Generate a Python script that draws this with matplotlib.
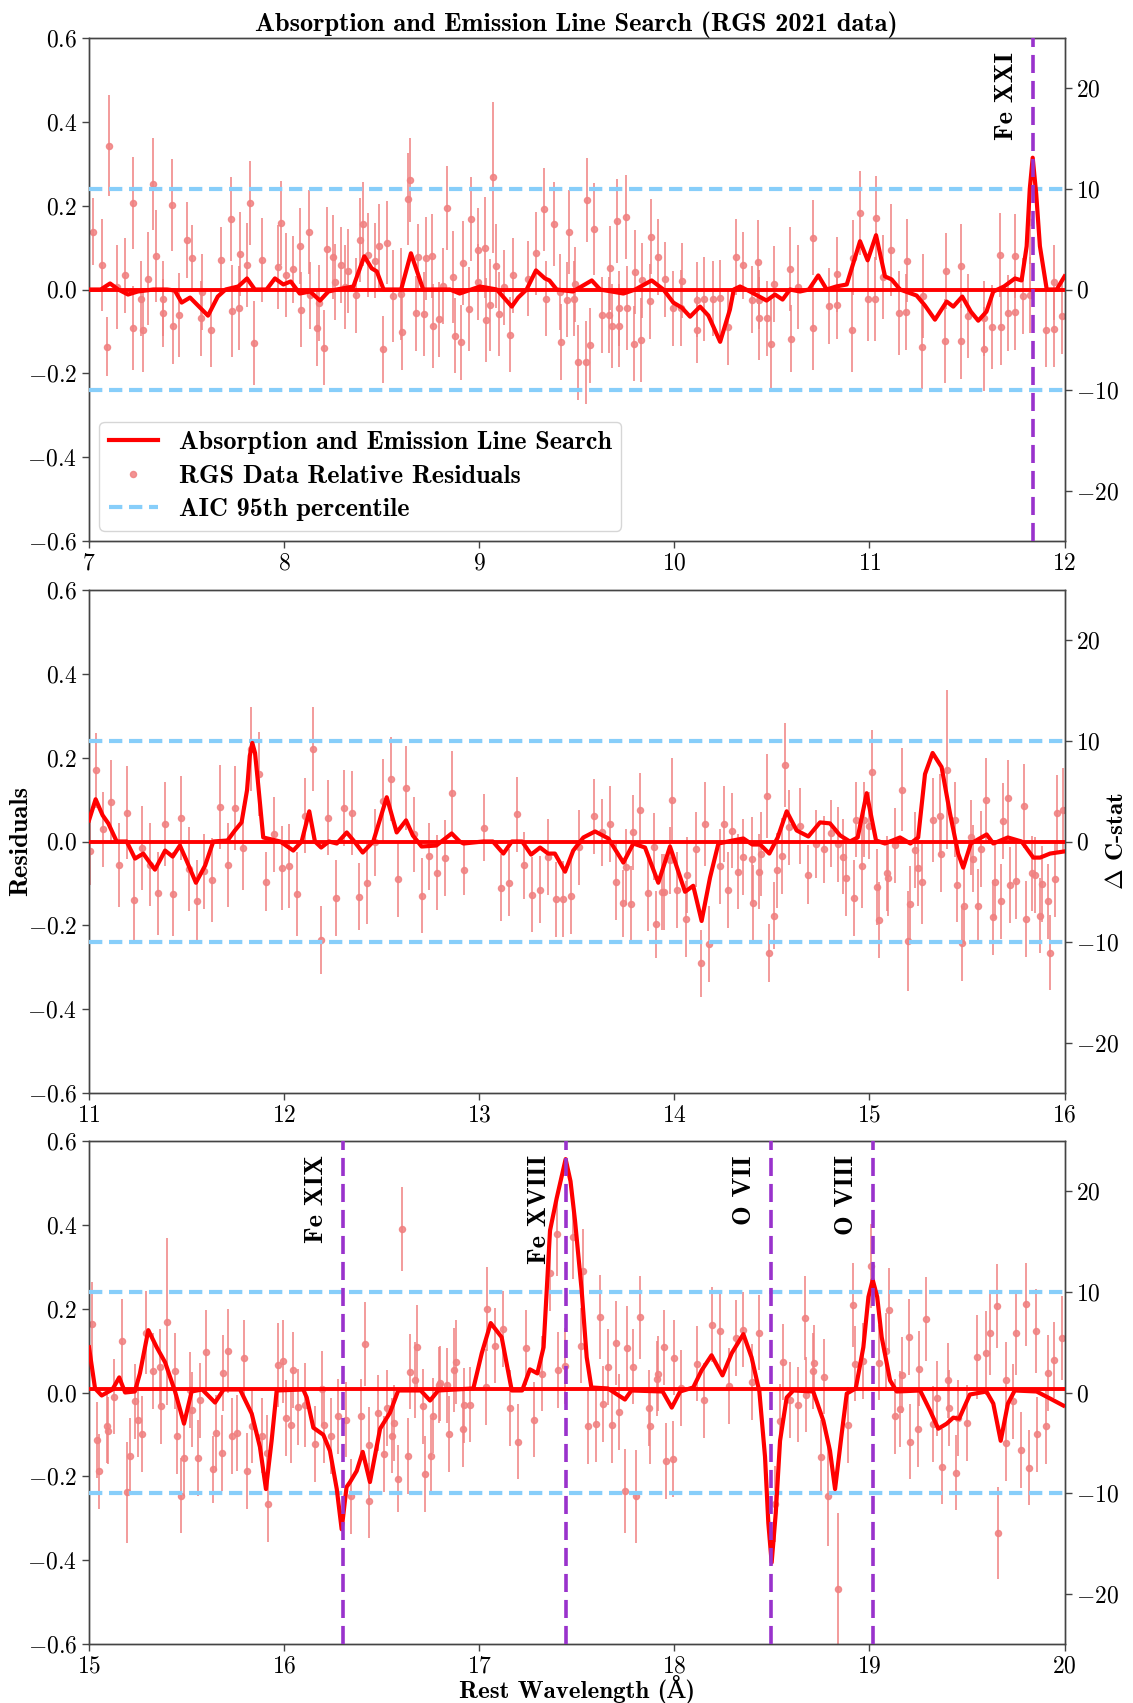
import numpy as np
import matplotlib
matplotlib.use('Agg')
import matplotlib.pyplot as plt
import matplotlib.transforms as mtransforms
from matplotlib.lines import Line2D
from matplotlib.ticker import FuncFormatter, MultipleLocator

plt.rcParams['mathtext.fontset'] = 'cm'
plt.rcParams['font.family'] = ['cmb10', 'DejaVu Serif']

# ---- panel 1 : 7-12 A ----
wl1 = [7.019, 7.065, 7.094, 7.104, 7.145, 7.185, 7.224, 7.227, 7.265, 7.275, 7.304, 7.326, 7.343, 7.378,
       7.381, 7.424, 7.429, 7.463, 7.500, 7.526, 7.572, 7.578, 7.625, 7.675, 7.726, 7.731, 7.770, 7.774,
       7.808, 7.825, 7.847, 7.885, 7.967, 7.984, 8.008, 8.047, 8.081, 8.087, 8.127, 8.133, 8.167, 8.179,
       8.206, 8.218, 8.249, 8.261, 8.290, 8.312, 8.329, 8.367, 8.389, 8.406, 8.432, 8.466, 8.486, 8.508,
       8.526, 8.556, 8.597, 8.604, 8.637, 8.645, 8.676, 8.688, 8.717, 8.725, 8.756, 8.765, 8.796, 8.816,
       8.833, 8.864, 8.874, 8.905, 8.915, 8.950, 8.956, 8.992, 8.995, 9.030, 9.033, 9.055, 9.072, 9.086,
       9.103, 9.127, 9.158, 9.175, 9.252, 9.289, 9.332, 9.342, 9.383, 9.414, 9.419, 9.452, 9.462, 9.486,
       9.491, 9.505, 9.545, 9.551, 9.568, 9.590, 9.628, 9.665, 9.671, 9.679, 9.708, 9.716, 9.718, 9.751,
       9.755, 9.796, 9.798, 9.827, 9.832, 9.875, 9.879, 9.918, 9.952, 9.995, 10.032, 10.038, 10.114,
       10.118, 10.152, 10.197, 10.234, 10.275, 10.316, 10.354, 10.397, 10.431, 10.434, 10.436, 10.473,
       10.494, 10.513, 10.593, 10.598, 10.636, 10.712, 10.713, 10.794, 10.832, 10.836, 10.909, 10.914,
       10.951, 10.991, 11.029, 11.032, 11.071, 11.110, 11.151, 11.190, 11.191, 11.269, 11.273, 11.388,
       11.391, 11.469, 11.471, 11.507, 11.588, 11.589, 11.630, 11.669, 11.672, 11.709, 11.746, 11.748,
       11.786, 11.823, 11.825, 11.905, 11.944, 11.946, 11.985]
res1 = [0.138, 0.058, -0.136, 0.343, 0.006, 0.034, -0.092, 0.206, -0.022, -0.097, 0.026, 0.251, 0.080, -0.056,
        -0.022, 0.202, -0.088, -0.061, 0.118, 0.074, -0.069, -0.006, -0.096, 0.070, 0.168, -0.051, -0.044, 0.084,
        0.058, 0.207, -0.128, 0.070, 0.053, 0.159, 0.034, 0.048, 0.104, -0.048, 0.138, -0.014, -0.092, -0.032,
        -0.139, 0.096, 0.078, 0.018, 0.058, 0.006, 0.045, -0.014, 0.118, 0.156, 0.082, 0.069, 0.104, -0.143,
        0.112, -0.016, -0.011, -0.101, 0.216, 0.261, -0.057, 0.077, -0.059, 0.074, 0.080, -0.088, -0.071, 0.008,
        0.194, 0.030, -0.110, -0.126, 0.064, -0.047, 0.168, 0.094, 0.018, 0.100, -0.073, -0.037, 0.268, 0.056,
        -0.059, 0.005, -0.108, 0.034, 0.026, 0.086, 0.191, -0.022, 0.156, -0.006, -0.125, -0.024, 0.138, -0.022,
        0.012, -0.174, -0.174, 0.214, -0.133, 0.144, -0.061, -0.061, 0.052, -0.088, 0.163, -0.086, -0.045, 0.172,
        -0.044, -0.129, 0.041, -0.120, 0.022, -0.028, 0.126, 0.078, 0.024, -0.045, -0.044, 0.021, -0.096,
        -0.024, -0.022, -0.022, -0.020, -0.090, 0.078, 0.058, -0.024, 0.065, -0.024, -0.069, -0.069,
        -0.130, 0.013, 0.048, -0.117, 0.006, -0.092, 0.124, -0.039, 0.036, -0.037, -0.096, 0.076,
        0.182, -0.023, -0.022, 0.170, 0.029, 0.094, -0.056, -0.054, 0.069, -0.137, -0.015, -0.122,
        0.044, 0.056, -0.124, -0.064, -0.141, -0.069, -0.089, 0.082, -0.089, -0.056, 0.080, -0.054,
        -0.015, 0.162, -0.013, -0.096, -0.094, 0.017, -0.064]
err1 = [0.08, 0.11, 0.07, 0.12, 0.10, 0.09, 0.10, 0.11, 0.09, 0.10, 0.11, 0.11, 0.11, 0.08,
        0.09, 0.11, 0.09, 0.10, 0.09, 0.08, 0.09, 0.09, 0.09, 0.08, 0.10, 0.11, 0.10, 0.10,
        0.10, 0.10, 0.10, 0.10, 0.10, 0.10, 0.10, 0.08, 0.09, 0.09, 0.10, 0.08, 0.09, 0.09,
        0.09, 0.10, 0.10, 0.09, 0.09, 0.10, 0.10, 0.09, 0.10, 0.10, 0.10, 0.09, 0.10, 0.08,
        0.10, 0.11, 0.11, 0.09, 0.11, 0.10, 0.09, 0.08, 0.10, 0.10, 0.10, 0.10, 0.09, 0.09,
        0.10, 0.11, 0.09, 0.09, 0.10, 0.10, 0.10, 0.10, 0.09, 0.12, 0.10, 0.11, 0.18, 0.10,
        0.10, 0.09, 0.09, 0.09, 0.09, 0.10, 0.10, 0.09, 0.10, 0.09, 0.09, 0.09, 0.10, 0.09,
        0.09, 0.09, 0.10, 0.10, 0.09, 0.11, 0.09, 0.09, 0.10, 0.10, 0.10, 0.10, 0.09, 0.10,
        0.10, 0.09, 0.10, 0.10, 0.09, 0.09, 0.09, 0.09, 0.09, 0.09, 0.09, 0.09, 0.08,
        0.09, 0.10, 0.09, 0.09, 0.09, 0.09, 0.08, 0.08, 0.10, 0.07, 0.10, 0.09,
        0.11, 0.09, 0.10, 0.08, 0.10, 0.10, 0.09, 0.09, 0.09, 0.08, 0.10, 0.09,
        0.10, 0.10, 0.10, 0.10, 0.10, 0.11, 0.10, 0.09, 0.10, 0.10, 0.10, 0.10,
        0.09, 0.10, 0.09, 0.10, 0.10, 0.09, 0.10, 0.10, 0.09, 0.09, 0.10, 0.09,
        0.09, 0.10, 0.09, 0.09, 0.09, 0.09, 0.09]
cw1 = [7.0, 7.06, 7.108, 7.15, 7.20, 7.25, 7.33, 7.40, 7.44, 7.475, 7.518, 7.61, 7.66, 7.70, 7.765, 7.81,
       7.85, 7.91, 7.953, 7.996, 8.034, 8.08, 8.133, 8.184, 8.227, 8.27, 8.355, 8.411, 8.449, 8.475, 8.51,
       8.60, 8.65, 8.713, 8.85, 8.90, 9.004, 9.09, 9.167, 9.20, 9.243, 9.291, 9.337, 9.36, 9.397, 9.48,
       9.577, 9.62, 9.739, 9.80, 9.884, 9.944, 9.995, 10.038, 10.081, 10.132, 10.175, 10.235, 10.285,
       10.305, 10.337, 10.388, 10.473, 10.516, 10.555, 10.593, 10.644, 10.69, 10.738, 10.781, 10.83,
       10.884, 10.952, 10.991, 11.034, 11.08, 11.114, 11.157, 11.242, 11.285, 11.336, 11.396, 11.43,
       11.476, 11.52, 11.558, 11.60, 11.635, 11.69, 11.746, 11.78, 11.806, 11.822, 11.837, 11.855,
       11.874, 11.909, 11.96, 12.0]
cc1 = [0, 0, 0.6, 0.0, -0.5, -0.2, 0, 0, -0.1, -1.3, -0.8, -2.6, -0.7, 0, 0.3, 1.1,
       0, 0, 1.1, 0.5, 0.8, -0.4, -0.2, -1.1, -0.2, 0, 0.3, 3.3, 2.1, 1.8, 0,
       0, 3.6, 0, 0, -0.4, 0.3, 0, -1.7, -0.8, 0, 1.9, 1.1, 0.9, 0, -0.2,
       0.9, 0, -0.4, 0, 0.9, 0, -1.3, -1.8, -2.7, -1.7, -2.6, -5.2, -2.0,
       0, 0.3, -0.2, -1.1, -0.5, -1.0, 0, -0.2, 0, 1.4, 0, 0.3,
       0.5, 4.8, 2.9, 5.4, 1.3, 1.0, 0, -0.6, -1.6, -3.0, -1.2, -1.7,
       -0.7, -2.2, -3.1, -2.2, -0.2, 0.3, 1.1, 0.9, 4.3, 10.0, 13.1, 9.5,
       4.3, 0, 0, 1.3]

# ---- panel 2 : 11-16 A ----
wl2 = [11.005, 11.034, 11.074, 11.113, 11.154, 11.193, 11.232, 11.273, 11.313, 11.352, 11.391, 11.432,
       11.471, 11.513, 11.552, 11.591, 11.630, 11.671, 11.710, 11.748, 11.791, 11.830, 11.872, 11.907,
       11.948, 11.987, 12.027, 12.068, 12.107, 12.146, 12.187, 12.226, 12.266, 12.307, 12.346, 12.386,
       12.427, 12.466, 12.505, 12.546, 12.585, 12.625, 12.666, 12.705, 12.745, 12.785, 12.825, 12.862,
       12.924, 13.026, 13.112, 13.153, 13.192, 13.232, 13.272, 13.312, 13.353, 13.392, 13.431, 13.470,
       13.512, 13.590, 13.631, 13.671, 13.700, 13.739, 13.751, 13.778, 13.790, 13.824, 13.866, 13.897,
       13.906, 13.935, 13.947, 13.978, 13.986, 14.015, 14.058, 14.067, 14.109, 14.137, 14.157, 14.176,
       14.234, 14.254, 14.273, 14.294, 14.328, 14.354, 14.396, 14.405, 14.434, 14.445, 14.474, 14.486,
       14.513, 14.525, 14.554, 14.565, 14.589, 14.645, 14.683, 14.725, 14.765, 14.802, 14.841, 14.867,
       14.881, 14.922, 14.930, 14.961, 14.973, 14.999, 15.012, 15.041, 15.051, 15.089, 15.097, 15.131,
       15.169, 15.200, 15.208, 15.234, 15.248, 15.272, 15.328, 15.362, 15.367, 15.399, 15.438, 15.447,
       15.477, 15.486, 15.519, 15.529, 15.558, 15.570, 15.597, 15.634, 15.646, 15.677, 15.685, 15.711,
       15.723, 15.750, 15.793, 15.805, 15.834, 15.847, 15.873, 15.885, 15.916, 15.924, 15.953, 15.963,
       15.992]
res2 = [-0.023, 0.170, 0.029, 0.094, -0.056, 0.069, -0.139, -0.016, -0.055, -0.124, 0.042, -0.125,
        0.056, -0.065, -0.143, -0.071, -0.091, 0.082, -0.056, 0.080, -0.015, 0.220, 0.162, -0.096,
        0.017, -0.063, -0.058, -0.126, 0.062, 0.220, -0.235, 0.057, -0.135, 0.080, 0.068, -0.132,
        -0.098, -0.002, 0.096, 0.150, -0.089, 0.128, 0.017, -0.129, -0.035, -0.074, -0.039, 0.116,
        -0.068, 0.033, -0.110, -0.098, 0.065, -0.057, -0.127, -0.115, -0.037, -0.138, -0.137, -0.131,
        -0.014, 0.060, 0.022, 0.042, -0.097, -0.147, -0.061, -0.149, 0.022, 0.074, -0.123, -0.012,
        -0.197, -0.121, -0.121, -0.045, 0.100, -0.116, -0.185, -0.080, -0.019, -0.291, 0.042, -0.245,
        -0.059, 0.042, -0.116, 0.026, -0.072, -0.037, -0.041, -0.147, -0.072, -0.029, 0.108, -0.266,
        -0.177, -0.069, -0.035, 0.183, 0.034, 0.037, -0.079, -0.006, -0.018, 0.020, -0.007, -0.036,
        -0.087, -0.135, 0.052, -0.058, 0.052, 0.038, 0.166, -0.109, -0.187, -0.076, -0.088, -0.009,
        0.124, -0.237, -0.149, -0.020, -0.064, -0.096, 0.052, 0.062, -0.031, 0.171, 0.052, -0.103,
        -0.243, -0.155, 0.010, -0.041, -0.155, -0.018, 0.100, -0.181, -0.096, -0.143, 0.049, 0.104,
        -0.104, -0.095, 0.084, -0.185, -0.076, -0.080, -0.177, -0.101, -0.143, -0.265, -0.089, 0.068,
        0.076]
err2 = [0.08, 0.09, 0.09, 0.10, 0.10, 0.11, 0.10, 0.10, 0.10, 0.10, 0.10, 0.10,
        0.10, 0.10, 0.10, 0.09, 0.10, 0.10, 0.10, 0.10, 0.10, 0.10, 0.10, 0.07,
        0.09, 0.10, 0.10, 0.10, 0.09, 0.10, 0.08, 0.09, 0.09, 0.09, 0.10, 0.08,
        0.10, 0.08, 0.10, 0.10, 0.09, 0.10, 0.09, 0.09, 0.08, 0.09, 0.09, 0.10,
        0.06, 0.08, 0.08, 0.08, 0.09, 0.08, 0.09, 0.08, 0.09, 0.09, 0.09, 0.09,
        0.09, 0.09, 0.08, 0.09, 0.09, 0.08, 0.09, 0.09, 0.09, 0.09, 0.09, 0.08,
        0.08, 0.09, 0.09, 0.08, 0.10, 0.09, 0.09, 0.09, 0.09, 0.08, 0.10, 0.09,
        0.09, 0.09, 0.09, 0.09, 0.09, 0.09, 0.10, 0.09, 0.09, 0.10, 0.10, 0.07,
        0.08, 0.09, 0.09, 0.10, 0.09, 0.09, 0.07, 0.08, 0.08, 0.08, 0.09, 0.09,
        0.09, 0.09, 0.09, 0.10, 0.09, 0.08, 0.10, 0.09, 0.09, 0.09, 0.09, 0.09,
        0.10, 0.12, 0.09, 0.09, 0.09, 0.10, 0.10, 0.10, 0.09, 0.19, 0.09, 0.09,
        0.09, 0.09, 0.09, 0.08, 0.09, 0.09, 0.10, 0.09, 0.09, 0.09, 0.09, 0.09,
        0.09, 0.09, 0.10, 0.09, 0.09, 0.09, 0.09, 0.09, 0.09, 0.09, 0.09, 0.09,
        0.10]
cw2 = [11.0, 11.034, 11.07, 11.099, 11.142, 11.193, 11.236, 11.278, 11.338, 11.39, 11.429, 11.466, 11.50,
       11.548, 11.595, 11.637, 11.71, 11.748, 11.782, 11.81, 11.824, 11.837, 11.851, 11.865, 11.893, 11.98,
       12.047, 12.09, 12.129, 12.158, 12.19, 12.23, 12.27, 12.321, 12.36, 12.403, 12.457, 12.526, 12.577,
       12.625, 12.66, 12.705, 12.78, 12.859, 12.90, 12.92, 13.02, 13.07, 13.124, 13.167, 13.22, 13.266,
       13.312, 13.353, 13.388, 13.44, 13.482, 13.534, 13.594, 13.662, 13.739, 13.79, 13.85, 13.918, 13.978,
       14.055, 14.097, 14.14, 14.183, 14.226, 14.30, 14.354, 14.40, 14.44, 14.487, 14.53, 14.576, 14.627,
       14.687, 14.747, 14.798, 14.85, 14.90, 14.94, 14.986, 15.034, 15.08, 15.157, 15.21, 15.25, 15.285,
       15.324, 15.37, 15.413, 15.455, 15.481, 15.52, 15.601, 15.635, 15.71, 15.78, 15.84, 15.875, 15.926,
       15.995]
cc2 = [2.1, 4.2, 2.6, 1.8, 0, 0, -1.7, -1.2, -2.8, -0.9, -1.5, -0.4, -1.9,
       -4.1, -2.4, 0, 0.1, 1.1, 1.9, 5.1, 8.5, 9.8, 8.8, 6.1, 0.4, 0,
       -0.9, 0, 3.0, 0, -0.6, 0, -0.2, 0.9, 0, -1.1, 0, 4.4, 0.9,
       2.1, 0.6, -0.5, -0.4, 0.8, 0, -0.2, 0, 0, -1.2, 0, 0, -1.3,
       -0.6, -1.2, -1.2, -3.0, -0.9, 0.4, 1.0, 0.3, -2.1, -0.2, -0.6, -4.1, -0.5,
       -5.0, -4.4, -7.9, -3.6, -0.2, 0.1, 0.3, -0.3, -0.3, -1.2, 0.4, 3.0, 1.1,
       0.5, 1.9, 1.8, 0.6, 0, 0.4, 4.8, 0.1, -0.2, 0.4, -0.2, 0.4, 6.7,
       8.8, 7.4, 2.8, -1.2, -2.6, -0.2, 0.7, -0.2, 0.4, 0, -1.6, -1.6, -1.2,
       -1.0]

# ---- panel 3 : 15-20 A ----
wl3 = [15.014, 15.043, 15.053, 15.090, 15.099, 15.130, 15.171, 15.194, 15.210, 15.236, 15.250, 15.270,
       15.290, 15.330, 15.364, 15.369, 15.401, 15.441, 15.449, 15.470, 15.489, 15.518, 15.530, 15.560,
       15.569, 15.600, 15.637, 15.649, 15.680, 15.688, 15.714, 15.731, 15.757, 15.796, 15.808, 15.834,
       15.885, 15.910, 15.919, 15.967, 15.996, 16.008, 16.035, 16.047, 16.073, 16.107, 16.158, 16.193,
       16.204, 16.239, 16.275, 16.315, 16.343, 16.394, 16.415, 16.435, 16.437, 16.483, 16.514, 16.526,
       16.555, 16.565, 16.586, 16.603, 16.634, 16.646, 16.671, 16.683, 16.714, 16.723, 16.752, 16.761,
       16.792, 16.800, 16.834, 16.843, 16.872, 16.882, 16.915, 16.923, 16.951, 17.034, 17.042, 17.082,
       17.121, 17.158, 17.201, 17.240, 17.281, 17.320, 17.363, 17.401, 17.406, 17.440, 17.479, 17.520,
       17.534, 17.559, 17.599, 17.619, 17.636, 17.659, 17.679, 17.699, 17.718, 17.747, 17.756, 17.787,
       17.804, 17.825, 17.868, 17.876, 17.910, 17.915, 17.948, 17.958, 17.992, 17.996, 18.035, 18.115,
       18.153, 18.195, 18.235, 18.278, 18.317, 18.354, 18.397, 18.436, 18.516, 18.542, 18.556, 18.593,
       18.632, 18.670, 18.673, 18.712, 18.717, 18.751, 18.766, 18.786, 18.837, 18.891, 18.916, 18.928,
       18.967, 19.007, 19.050, 19.087, 19.101, 19.130, 19.156, 19.168, 19.204, 19.207, 19.250, 19.253,
       19.288, 19.327, 19.349, 19.370, 19.401, 19.407, 19.446, 19.452, 19.498, 19.549, 19.597, 19.617,
       19.655, 19.657, 19.699, 19.701, 19.737, 19.751, 19.776, 19.802, 19.818, 19.852, 19.857, 19.905,
       19.917, 19.946, 19.985]
res3 = [0.164, -0.113, -0.188, -0.079, -0.091, -0.010, 0.123, -0.238, -0.151, -0.021, -0.065, -0.099,
        0.143, 0.051, 0.061, -0.033, 0.169, 0.051, -0.104, -0.246, -0.156, 0.006, -0.041, -0.156,
        -0.019, 0.097, -0.183, -0.097, -0.144, 0.047, 0.100, -0.104, -0.097, 0.082, -0.187, -0.079,
        -0.103, -0.144, -0.266, 0.066, 0.074, -0.061, -0.077, 0.054, -0.035, -0.029, -0.123, 0.009,
        -0.077, -0.104, -0.057, -0.065, -0.248, -0.057, 0.116, -0.125, -0.258, -0.049, -0.147, -0.037,
        -0.103, -0.073, -0.206, 0.391, -0.151, 0.050, 0.030, 0.108, -0.033, -0.194, -0.151, -0.055,
        0.018, 0.022, 0.017, -0.099, 0.053, 0.073, -0.087, -0.031, -0.029, 0.013, 0.200, 0.112,
        0.152, -0.037, -0.117, 0.107, -0.065, 0.045, 0.284, 0.377, 0.054, 0.063, 0.370, 0.112,
        0.290, -0.081, -0.075, 0.180, -0.027, 0.061, -0.077, 0.119, -0.047, -0.234, 0.106, 0.062,
        -0.248, 0.179, -0.037, -0.081, 0.033, 0.045, 0.108, -0.163, -0.159, 0.083, 0.011, 0.069,
        -0.019, 0.162, 0.147, 0.015, 0.130, 0.150, 0.025, 0.143, -0.266, -0.069, 0.073, -0.018,
        -0.029, 0.178, -0.005, 0.051, 0.071, -0.155, 0.038, -0.246, -0.468, -0.077, 0.208, 0.069,
        0.075, 0.301, 0.071, 0.099, 0.198, -0.057, -0.039, 0.042, 0.132, -0.117, -0.087, 0.057,
        0.176, -0.075, -0.014, -0.177, 0.029, -0.037, -0.191, -0.061, -0.073, 0.084, 0.094, 0.142,
        0.206, -0.336, 0.030, -0.121, -0.021, 0.142, -0.137, 0.210, -0.179, 0.147, -0.100, -0.081,
        0.047, 0.077, 0.131]
err3 = [0.10, 0.09, 0.09, 0.09, 0.08, 0.09, 0.10, 0.12, 0.09, 0.09, 0.09, 0.09,
        0.10, 0.09, 0.09, 0.09, 0.20, 0.09, 0.09, 0.09, 0.09, 0.09, 0.09, 0.09,
        0.09, 0.10, 0.08, 0.09, 0.09, 0.09, 0.10, 0.09, 0.09, 0.09, 0.09, 0.09,
        0.09, 0.09, 0.09, 0.10, 0.10, 0.09, 0.09, 0.09, 0.09, 0.10, 0.09, 0.09,
        0.09, 0.09, 0.09, 0.09, 0.09, 0.09, 0.10, 0.09, 0.09, 0.09, 0.09, 0.09,
        0.09, 0.09, 0.08, 0.10, 0.09, 0.09, 0.09, 0.10, 0.09, 0.09, 0.09, 0.09,
        0.09, 0.09, 0.09, 0.09, 0.10, 0.10, 0.09, 0.09, 0.09, 0.09, 0.10, 0.09,
        0.09, 0.09, 0.09, 0.09, 0.09, 0.09, 0.09, 0.10, 0.09, 0.09, 0.10, 0.09,
        0.10, 0.09, 0.09, 0.10, 0.09, 0.09, 0.09, 0.10, 0.09, 0.10, 0.10, 0.09,
        0.11, 0.10, 0.09, 0.09, 0.09, 0.09, 0.09, 0.09, 0.09, 0.09, 0.09, 0.09,
        0.09, 0.09, 0.09, 0.09, 0.09, 0.09, 0.09, 0.09, 0.09, 0.09, 0.09, 0.09,
        0.09, 0.10, 0.09, 0.09, 0.09, 0.09, 0.09, 0.12, 0.18, 0.09, 0.10, 0.09,
        0.09, 0.10, 0.09, 0.09, 0.10, 0.09, 0.09, 0.09, 0.09, 0.09, 0.09, 0.09,
        0.10, 0.09, 0.09, 0.09, 0.09, 0.09, 0.09, 0.09, 0.09, 0.10, 0.10, 0.10,
        0.10, 0.11, 0.09, 0.09, 0.09, 0.10, 0.09, 0.10, 0.09, 0.10, 0.09, 0.09,
        0.09, 0.09, 0.10]
cw3 = [15.0, 15.031, 15.065, 15.12, 15.155, 15.185, 15.235, 15.261, 15.304, 15.347, 15.39, 15.441, 15.487,
       15.526, 15.58, 15.646, 15.69, 15.774, 15.834, 15.876, 15.907, 15.936, 15.962, 16.098, 16.116, 16.15,
       16.201, 16.235, 16.27, 16.295, 16.32, 16.338, 16.372, 16.403, 16.44, 16.492, 16.543, 16.585, 16.70,
       16.748, 16.79, 16.97, 17.013, 17.059, 17.115, 17.167, 17.22, 17.26, 17.298, 17.33, 17.363, 17.397,
       17.443, 17.468, 17.491, 17.525, 17.551, 17.575, 17.66, 17.747, 17.78, 17.94, 17.987, 18.03, 18.097,
       18.14, 18.191, 18.247, 18.294, 18.354, 18.396, 18.436, 18.465, 18.482, 18.499, 18.52, 18.542,
       18.576, 18.61, 18.712, 18.764, 18.798, 18.824, 18.858, 18.884, 18.93, 18.969, 18.995, 19.017,
       19.04, 19.063, 19.106, 19.14, 19.26, 19.311, 19.353, 19.396, 19.43, 19.46, 19.485, 19.515, 19.60,
       19.635, 19.673, 19.71, 19.745, 19.857, 19.926, 19.994]
cc3 = [4.5, 0.4, -0.3, 0.3, 1.5, 0, 0.1, 1.9, 6.2, 4.5, 3.0, 0.1, -3.1,
       0.1, 0.3, -1.0, 0.3, 0.3, -2.1, -5.4, -9.6, -4.8, 0.2, 0.3, -0.5, -3.5,
       -4.2, -5.8, -9.6, -13.6, -9.4, -8.9, -7.8, -5.9, -8.9, -3.6, -2.0, 0.2, 0.2,
       -0.8, 0.2, 0.4, 3.9, 6.9, 5.5, 0.2, 0.2, 2.3, 1.9, 4.5, 16.1, 19.3,
       23.2, 21.0, 17.1, 10.2, 3.5, 0.5, 0.4, -0.7, 0.2, 0.1, -1.5, 0.1, 0.5,
       2.2, 3.7, 1.7, 3.9, 5.8, 3.5, 0.1, -6.4, -13.0, -16.9, -12.0, -4.8,
       -0.5, 0.2, 0.1, -2.8, -5.8, -9.6, -4.1, -0.1, 0.4, 4.5, 9.5, 11.2,
       9.5, 5.5, 1.2, 0.1, 0.2, -1.8, -3.6, -3.1, -2.5, -2.6, -1.5, -0.2, 0.1,
       -1.1, -4.8, -1.1, 0.2, 0.1, -0.6, -1.3]

xranges = [(7, 12), (11, 16), (15, 20)]
base_level = [0.0, 0.0, 0.3]
line_pos = [[11.838], [], [16.303, 17.444, 18.497, 19.02]]
line_names = [['Fe XXI'], [], ['Fe XIX', 'Fe XVIII', 'O VII', 'O VIII']]
aic_level = 10

W, H = 1133, 1703
fig = plt.figure(figsize=(W / 100, H / 100), dpi=100)

left, width = 89 / W, 975.5 / W
tops = [38, 590, 1141]
ax_h = 503

pt_col = '#f08080'
aic_col = '#87cefa'
ln_col = '#9932cc'
spine_col = '#444444'

def fmt_left(v, pos):
    return '$%.1f$' % v

def fmt_int(v, pos):
    return '$%d$' % round(v)

data = [(wl1, res1, err1, cw1, cc1), (wl2, res2, err2, cw2, cc2), (wl3, res3, err3, cw3, cc3)]
axes = []
for i, (wl, res, err, cw, cc) in enumerate(data):
    b = 1 - (tops[i] + ax_h) / H
    ax = fig.add_axes([left, b, width, ax_h / H])
    ax.errorbar(wl, res, yerr=err, fmt='o', color=pt_col, ms=4.4, elinewidth=1.3,
                capsize=0, alpha=0.85, zorder=2)
    ax.set_xlim(*xranges[i])
    ax.set_ylim(-0.6, 0.6)
    ax.yaxis.set_major_locator(MultipleLocator(0.2))
    ax.xaxis.set_major_locator(MultipleLocator(1))
    ax.yaxis.set_major_formatter(FuncFormatter(fmt_left))
    ax.xaxis.set_major_formatter(FuncFormatter(fmt_int))

    ax2 = ax.twinx()
    ax2.set_ylim(-25, 25)
    ax2.yaxis.set_major_locator(MultipleLocator(10))
    ax2.yaxis.set_major_formatter(FuncFormatter(fmt_int))
    ax2.axhline(aic_level, color=aic_col, ls='--', lw=3, dashes=(3.2, 1.6), zorder=3)
    ax2.axhline(-aic_level, color=aic_col, ls='--', lw=3, dashes=(3.2, 1.6), zorder=3)
    ax2.axhline(base_level[i], color='red', lw=2.8, zorder=4)
    ax2.plot(cw, cc, color='red', lw=3, zorder=5, solid_joinstyle='round')

    trans = mtransforms.blended_transform_factory(ax2.transData, ax2.transAxes)
    for x, name in zip(line_pos[i], line_names[i]):
        ax2.axvline(x, color=ln_col, ls='--', lw=2.6, dashes=(5, 2.2), zorder=6)
        ax2.annotate(name, xy=(x, 0.972), xycoords=trans, xytext=(-11, 0),
                     textcoords='offset points', rotation=90, ha='right', va='top',
                     fontsize=19)

    for a in (ax, ax2):
        for s in a.spines.values():
            s.set_color(spine_col)
            s.set_linewidth(1.0)
        a.tick_params(labelsize=17, length=5, width=1.0, color=spine_col)
    axes.append((ax, ax2))

ax, ax2 = axes[0]
ax.set_title('Absorption and Emission Line Search (RGS 2021 data)', fontsize=19, pad=4)
handles = [Line2D([], [], color='red', lw=3),
           Line2D([], [], color=pt_col, marker='o', ls='', ms=4.4, alpha=0.85),
           Line2D([], [], color=aic_col, lw=3, ls='--', dashes=(3.2, 1.6))]
labels = ['Absorption and Emission Line Search', 'RGS Data Relative Residuals', 'AIC 95th percentile']
leg = ax2.legend(handles, labels, loc='lower left', fontsize=18.8, frameon=True, fancybox=True,
                 borderaxespad=0.4, borderpad=0.35, handlelength=1.9, labelspacing=0.4)
leg.get_frame().set_edgecolor('#cccccc')
leg.set_zorder(10)

axes[1][0].set_ylabel('Residuals', fontsize=19)
axes[1][0].yaxis.set_label_coords(-0.058, 0.5)
axes[1][1].set_ylabel(r'$\Delta$ C-stat', fontsize=18)
axes[1][1].yaxis.set_label_coords(1.043, 0.5)
axes[2][0].set_xlabel('Rest Wavelength (Å)', fontsize=18)
axes[2][0].xaxis.set_label_coords(0.5, -0.061)

fig.savefig('out.png', dpi=100)
